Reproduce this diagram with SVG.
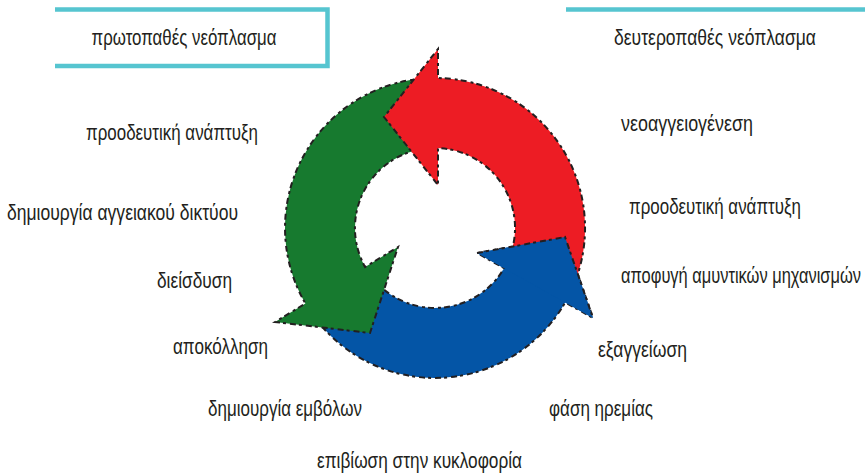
<svg xmlns="http://www.w3.org/2000/svg" width="865" height="475" viewBox="0 0 865 475">
<style>
.lbl{font-family:"Liberation Sans Narrow","Liberation Sans",Arial,sans-serif;font-size:22.5px;fill:#231f20}
.frame{fill:none;stroke:#56c5d0;stroke-width:4.5;stroke-linejoin:miter}
.edge{stroke:#231f20;stroke-width:2;stroke-dasharray:6 3 3 4;stroke-linejoin:miter}
.red{fill:#ed1c24}
.green{fill:#177a2f}
.blue{fill:#0455a6}
</style>
<rect width="865" height="475" fill="#ffffff"/>
<g id="primary">
<path class="frame" d="M55,9.5 H327.5 V66 H55"/>
<text class="lbl" x="91.5" y="45" textLength="185" lengthAdjust="spacingAndGlyphs">πρωτοπαθές νεόπλασμα</text>
</g>
<g id="secondary">
<path class="frame" d="M566,9.5 H865"/>
<text class="lbl" x="614" y="45" textLength="202" lengthAdjust="spacingAndGlyphs">δευτεροπαθές νεόπλασμα</text>
</g>
<g id="cycle">
<g id="arrow-blue">
<path class="blue edge" d="M312.1,314.0 A150,150 0 0 0 565.2,302.4 L593,318 L565,237 L477,253 L504.1,268.2 A80,80 0 0 1 369.5,273.9 Z"/>
</g>
<g id="arrow-green">
<path class="green edge" d="M421.9,78.6 A150,150 0 0 0 305.4,303.5 L275,322 L370,333 L398,247 L365.1,267.0 A80,80 0 0 1 428.0,148.3 Z"/>
</g>
<g id="arrow-red">
<path class="red edge" d="M576.0,279.3 A150,150 0 0 0 438,78.03 L438,49 L384,117 L438,185 L438,148.06 A80,80 0 0 1 510.2,255.4 Z"/>
</g>
<g id="arrow-blue-head">
<path class="blue" d="M504.1,268.2 L477,253 L565,237 L593,318 L565.2,302.4 Z"/>
<path class="edge" fill="none" d="M477,253 L565,237 L593,318"/>
</g>
</g>
<g id="labels-left">
<text class="lbl" x="86" y="140" textLength="172" lengthAdjust="spacingAndGlyphs">προοδευτική ανάπτυξη</text>
<text class="lbl" x="7" y="220" textLength="231" lengthAdjust="spacingAndGlyphs">δημιουργία αγγειακού δικτύου</text>
<text class="lbl" x="157" y="288" textLength="75" lengthAdjust="spacingAndGlyphs">διείσδυση</text>
<text class="lbl" x="173" y="354" textLength="95" lengthAdjust="spacingAndGlyphs">αποκόλληση</text>
</g>
<g id="labels-right">
<text class="lbl" x="621" y="131" textLength="132" lengthAdjust="spacingAndGlyphs">νεοαγγειογένεση</text>
<text class="lbl" x="629" y="214" textLength="172" lengthAdjust="spacingAndGlyphs">προοδευτική ανάπτυξη</text>
<text class="lbl" x="621" y="283" textLength="240" lengthAdjust="spacingAndGlyphs">αποφυγή αμυντικών μηχανισμών</text>
<text class="lbl" x="598" y="357" textLength="89" lengthAdjust="spacingAndGlyphs">εξαγγείωση</text>
</g>
<g id="labels-bottom">
<text class="lbl" x="208" y="416" textLength="154" lengthAdjust="spacingAndGlyphs">δημιουργία εμβόλων</text>
<text class="lbl" x="549" y="416" textLength="104" lengthAdjust="spacingAndGlyphs">φάση ηρεμίας</text>
<text class="lbl" x="317" y="468" textLength="205" lengthAdjust="spacingAndGlyphs">επιβίωση στην κυκλοφορία</text>
</g>
</svg>
